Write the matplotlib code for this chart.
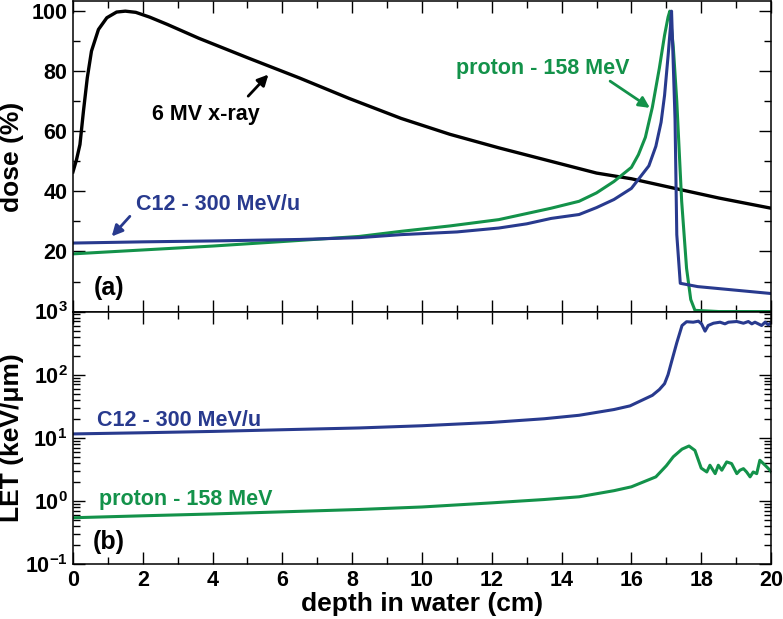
import numpy as np
import matplotlib
matplotlib.use("Agg")
import matplotlib.pyplot as plt
from matplotlib.ticker import FuncFormatter, MultipleLocator, LogLocator, NullFormatter

plt.rcParams['font.family'] = 'Liberation Sans'
plt.rcParams['font.weight'] = 'bold'
plt.rcParams['mathtext.fontset'] = 'custom'
plt.rcParams['mathtext.rm'] = 'Liberation Sans:bold'
plt.rcParams['mathtext.bf'] = 'Liberation Sans:bold'

BLUE = '#283a8e'
GREEN = '#13924a'

# dose curves (depth in cm, dose in %)
xray_depth = [0, 0.1, 0.2, 0.3, 0.41, 0.53, 0.73, 0.97, 1.25, 1.5, 1.8, 2.2, 2.7, 3.6, 5.0,
              6.5, 7.9, 9.4, 10.8, 12.2, 13.7, 15.0, 16.0, 17.4, 18.5, 20.0]
xray_dose = [46.5, 50.5, 55.6, 66.7, 77.8, 86.7, 93.9, 97.8, 99.7, 100, 99.6, 98, 95.6, 91,
             84.5, 77.7, 71, 64.3, 59, 54.5, 50, 46.1, 44.2, 40.6, 37.8, 34.4]

proton_depth = [0, 2, 4, 6, 8.2, 9.4, 10.8, 12.2, 13.7, 14.5, 15.0, 15.5, 16.0, 16.2, 16.4,
                16.6, 16.8, 16.95, 17.05, 17.1, 17.2, 17.3, 17.44, 17.58, 17.7, 17.82, 18.5, 20]
proton_dose = [19.2, 20.5, 21.8, 23.3, 25.0, 26.7, 28.5, 30.6, 34.4, 36.7, 39.5, 43.3, 48,
               52.2, 58, 68, 81, 92, 98, 100, 88, 70, 36.7, 14.4, 4, 0.4, 0, 0]

c12_depth = [0, 2, 4, 6.5, 8.2, 9.4, 11, 12.2, 13, 13.7, 14.5, 15.0, 15.5, 16.0, 16.5,
             16.7, 16.85, 16.95, 17.05, 17.12, 17.15, 17.25, 17.3, 17.4, 17.9, 20]
c12_dose = [22.8, 23.2, 23.5, 24.0, 24.6, 25.6, 26.5, 27.8, 29.2, 31, 32.3, 34.6, 37.3, 41,
            48.5, 55, 63, 72, 85, 95, 100, 64, 25.6, 9.4, 8.3, 6.0]

# LET curves (keV/um)
proton_let_depth = [0, 2, 4, 6, 8.2, 10, 12, 13.5, 14.5, 15.5, 16.0, 16.7, 17.0, 17.2, 17.45,
                    17.65, 17.82, 18.0, 18.16, 18.25, 18.40, 18.49, 18.59, 18.73, 18.87, 19.02,
                    19.11, 19.21, 19.30, 19.40, 19.49, 19.59, 19.68, 19.83, 19.97, 20.0]
proton_let = [0.54, 0.58, 0.62, 0.67, 0.73, 0.80, 0.93, 1.05, 1.16, 1.45, 1.67, 2.4, 3.6,
              5.0, 6.6, 7.4, 6.3, 3.3, 2.87, 3.67, 2.7, 3.67, 3.06, 4.14, 3.9, 2.7, 3.06,
              3.24, 2.87, 2.4, 2.87, 2.7, 4.4, 3.67, 3.06, 2.9]

c12_let_depth = [0, 2, 4, 6, 8.2, 10, 12, 13.5, 14.5, 15.5, 15.96, 16.6, 16.8, 16.95, 17.05,
                 17.15, 17.3, 17.45, 17.58, 17.77, 17.92, 18.01, 18.11, 18.20, 18.35, 18.54,
                 18.68, 18.78, 19.02, 19.21, 19.35, 19.45, 19.54, 19.73, 19.83, 19.92, 20.0]
c12_let = [11.5, 12.0, 12.6, 13.4, 14.3, 15.5, 17.5, 20, 22.7, 28, 32, 47, 58, 72, 100, 160,
           320, 600, 690, 678, 703, 638, 489, 601, 653, 678, 638, 678, 695, 653, 695, 638,
           678, 601, 678, 616, 660]

fig, (ax1, ax2) = plt.subplots(2, 1, sharex=True, figsize=(7.83, 6.19), dpi=100,
                               gridspec_kw=dict(height_ratios=[311, 253], hspace=0))
fig.subplots_adjust(left=0.0932, right=0.9847, top=0.998, bottom=0.0889)

ax1.plot(xray_depth, xray_dose, color='black', lw=2.4)
ax1.plot(proton_depth, proton_dose, color=GREEN, lw=2.2)
ax1.plot(c12_depth, c12_dose, color=BLUE, lw=2.2)

ax2.plot(c12_let_depth, c12_let, color=BLUE, lw=2.2)
ax2.plot(proton_let_depth, proton_let, color=GREEN, lw=2.2)
ax2.set_yscale('log')

ax1.set_xlim(0, 20)
ax1.set_ylim(0, 103.3)
ax2.set_ylim(0.1, 1000)

ax1.set_yticks([20, 40, 60, 80, 100])
ax1.yaxis.set_minor_locator(MultipleLocator(10))
ax1.xaxis.set_major_locator(MultipleLocator(2))
ax1.xaxis.set_minor_locator(MultipleLocator(1))
ax2.set_yticks([0.1, 1, 10, 100, 1000])
ax2.yaxis.set_minor_locator(LogLocator(base=10, subs=np.arange(2, 10)))
ax2.yaxis.set_minor_formatter(NullFormatter())
ax2.yaxis.set_major_formatter(FuncFormatter(lambda v, p: r'$\mathbf{10^{%d}}$' % round(np.log10(v))))

for ax in (ax1, ax2):
    ax.tick_params(which='both', direction='in', top=True, right=True, labelsize=15.5, pad=4)
    ax.tick_params(which='major', length=8.5, width=1)
    ax.tick_params(which='minor', length=5, width=1)
    for s in ax.spines.values():
        s.set_linewidth(1.1)

ax1.set_ylabel('dose (%)', fontsize=19, fontweight='bold')
ax2.set_ylabel('LET (keV/\u03bcm)', fontsize=19, fontweight='bold')
ax1.yaxis.set_label_coords(-0.07, 0.5)
ax2.yaxis.set_label_coords(-0.07, 0.5)
ax2.set_xlabel('depth in water (cm)', fontsize=19, fontweight='bold', labelpad=1)

arrow = dict(arrowstyle='-|>', lw=2, mutation_scale=16, shrinkA=0, shrinkB=0)
ax1.annotate('', xy=(5.6, 78.9), xytext=(5.02, 71.7), arrowprops=dict(arrow, color='black'))
ax1.text(3.81, 65.7, '6 MV x-ray', fontsize=15.5, ha='center', va='center')
ax1.annotate('', xy=(16.53, 67.8), xytext=(15.39, 76.7), arrowprops=dict(arrow, color=GREEN))
ax1.text(13.45, 80.8, 'proton - 158 MeV', color=GREEN, fontsize=15.5, ha='center', va='center')
ax1.annotate('', xy=(1.11, 25), xytext=(1.63, 31.7), arrowprops=dict(arrow, color=BLUE))
ax1.text(4.17, 35.5, 'C12 - 300 MeV/u', color=BLUE, fontsize=15.5, ha='center', va='center')
ax1.text(1.03, 7.7, '(a)', fontsize=18, ha='center', va='center')

ax2.text(3.05, 18.6, 'C12 - 300 MeV/u', color=BLUE, fontsize=15.5, ha='center', va='center')
ax2.text(3.22, 1.07, 'proton - 158 MeV', color=GREEN, fontsize=15.5, ha='center', va='center')
ax2.text(1.03, 0.227, '(b)', fontsize=18, ha='center', va='center')

fig.savefig('out.png', dpi=100)
